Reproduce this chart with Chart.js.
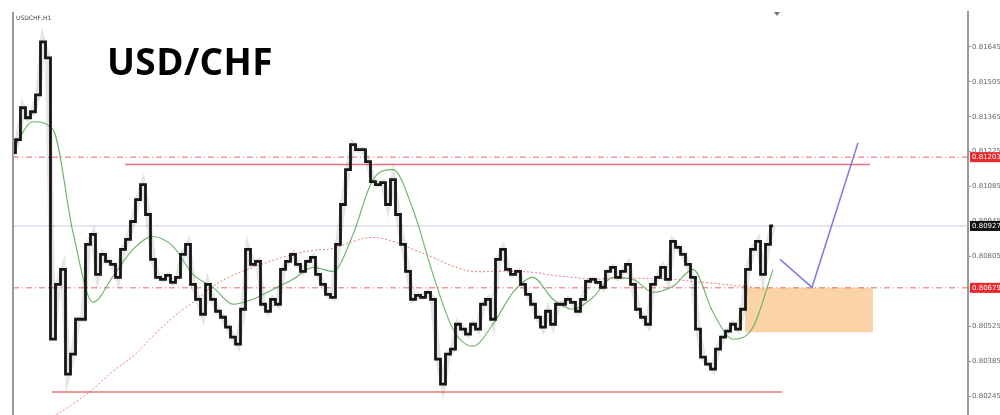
<!DOCTYPE html>
<html>
<head>
<meta charset="utf-8">
<script src="https://cdn.jsdelivr.net/npm/chart.js@4.4.1/dist/chart.umd.min.js"></script>
<style>
  html, body { margin: 0; padding: 0; background: #fff; }
  #wrap { position: relative; width: 1000px; height: 415px; }
  #priceChart { display: block; }
  #title { position: absolute; left: 107px; top: 42px; font: 700 37px "Open Sans", sans-serif; color: #000; line-height: 1; letter-spacing: 0.4px; }
  #sym { position: absolute; left: 16px; top: 14px; font: 6px "DejaVu Sans", sans-serif; color: #444; }
  #arrow { position: absolute; left: 774px; top: 12px; width: 0; height: 0; border-left: 3px solid transparent; border-right: 3px solid transparent; border-top: 4px solid #777; }
</style>
</head>
<body>
<div id="wrap">
  <canvas id="priceChart" width="1000" height="415"></canvas>
  <div id="title">USD/CHF</div>
  <div id="sym">USDCHF,H1</div>
  <div id="arrow"></div>
</div>
<script>
// closes, one per bar (H1)
const closes = [
  0.81221, 0.81273, 0.81401, 0.81361, 0.81385, 0.81453, 0.81665, 0.81601, 0.80473, 0.80693,
  0.80753, 0.80333, 0.80413, 0.80553, 0.80553, 0.80853, 0.80893, 0.80733, 0.80813, 0.80785,
  0.80773, 0.80721, 0.80833, 0.80873, 0.80945, 0.81033, 0.81093, 0.80973, 0.80793, 0.80721,
  0.80713, 0.80729, 0.80701, 0.80721, 0.80813, 0.80853, 0.80693, 0.80633, 0.80573, 0.80693,
  0.80633, 0.80585, 0.80561, 0.80521, 0.80481, 0.80453, 0.80593, 0.80833, 0.80773, 0.80785,
  0.80613, 0.80585, 0.80633, 0.80613, 0.80753, 0.80785, 0.80813, 0.80773, 0.80745, 0.80785,
  0.80801, 0.80733, 0.80693, 0.80653, 0.80641, 0.80853, 0.81013, 0.81153, 0.81253, 0.81233,
  0.81233, 0.81185, 0.81105, 0.81093, 0.81101, 0.81013, 0.81113, 0.80973, 0.80853, 0.80745,
  0.80633, 0.80649, 0.80641, 0.80661, 0.80633, 0.80393, 0.80293, 0.80413, 0.80433, 0.80533,
  0.80513, 0.80493, 0.80533, 0.80513, 0.80613, 0.80633, 0.80553, 0.80793, 0.80833, 0.80753,
  0.80733, 0.80745, 0.80693, 0.80653, 0.80613, 0.80561, 0.80521, 0.80585, 0.80533, 0.80613,
  0.80613, 0.80633, 0.80621, 0.80585, 0.80633, 0.80705, 0.80713, 0.80701, 0.80681, 0.80745,
  0.80761, 0.80721, 0.80745, 0.80773, 0.80693, 0.80593, 0.80561, 0.80533, 0.80693, 0.80721,
  0.80761, 0.80713, 0.80865, 0.80841, 0.80813, 0.80773, 0.80721, 0.80513, 0.80401, 0.80373,
  0.80353, 0.80433, 0.80481, 0.80505, 0.80533, 0.80513, 0.80593, 0.80753, 0.80833, 0.80865,
  0.80733, 0.80853, 0.80927
];

// fast MA (green), every 4th bar from bar 0
const maFast = [
  0.81233, 0.81345, 0.81313, 0.80901, 0.80621, 0.80725, 0.80833, 0.80885, 0.80845, 0.80733,
  0.80681, 0.80613, 0.80633, 0.80673, 0.80713, 0.80761, 0.80745, 0.80893, 0.81113, 0.81153,
  0.80993, 0.80733, 0.80513, 0.80445, 0.80533, 0.80661, 0.80721, 0.80633, 0.80593, 0.80641,
  0.80721, 0.80713, 0.80661, 0.80685, 0.80753, 0.80581, 0.80473, 0.80521, 0.80753
];

// slow MA (red dotted), every 4th bar from bar 8
const maSlowStart = 8;
const maSlow = [
  0.80161, 0.80213, 0.80273, 0.80345, 0.80405, 0.80485, 0.80561, 0.80621, 0.80685, 0.80729,
  0.80761, 0.80789, 0.80813, 0.80829, 0.80837, 0.80865, 0.80881, 0.80865, 0.80833, 0.80801,
  0.80765, 0.80745, 0.80745, 0.80745, 0.80741, 0.80729, 0.80721, 0.80713, 0.80717, 0.80717,
  0.80717, 0.80713, 0.80705, 0.80697, 0.80689, 0.80681
];

// horizontal levels: price, from bar, to bar
const levelPrices = [0.81203, 0.81173, 0.80927, 0.80679, 0.80261];
const levelFrom   = [0, 22.4, 0, 0, 7.8];
const levelTo     = [191, 171.4, 191, 191, 153.8];

// demand zone
const zoneBars = [146.4, 172];
const zoneTop = 0.80679;
const zoneBottom = 0.80501;

// projected path
const projBars = [153.4, 159.8, 169];
const projPrices = [0.80793, 0.80681, 0.81261];

// right axis
const tickLabels = [0.81645, 0.81505, 0.81365, 0.81225, 0.81085, 0.80945, 0.80805, 0.80665, 0.80525, 0.80385, 0.80245];
const priceTags = [0.81203, 0.80927, 0.80679];
const tagColors = ["#e8282c", "#111111", "#e8282c"];

const levelStyles = [
  { color: "rgba(230,80,80,0.85)", width: 1, dash: [6, 3, 1, 3] },
  { color: "rgba(238,100,110,0.9)", width: 1.5, dash: [] },
  { color: "rgba(195,195,220,0.9)", width: 1, dash: [] },
  { color: "rgba(230,80,80,0.85)", width: 1, dash: [6, 3, 1, 3] },
  { color: "rgba(238,100,110,0.9)", width: 1.5, dash: [] },
];

const datasets = [];

// zone as filled band
datasets.push({
  data: zoneBars.map(b => ({ x: b, y: zoneBottom })),
  borderWidth: 0, pointRadius: 0, fill: false, order: 10,
});
datasets.push({
  data: zoneBars.map(b => ({ x: b, y: zoneTop })),
  borderWidth: 0, pointRadius: 0, fill: "-1",
  backgroundColor: "rgba(248,196,140,0.75)", order: 10,
});

levelPrices.forEach((p, i) => {
  datasets.push({
    data: [{ x: levelFrom[i], y: p }, { x: levelTo[i], y: p }],
    borderColor: levelStyles[i].color,
    borderWidth: levelStyles[i].width,
    borderDash: levelStyles[i].dash,
    pointRadius: 0, fill: false, order: 9,
  });
});

// wick shading under closes
datasets.push({
  data: closes.map((v, i) => ({ x: i, y: v })),
  borderColor: "rgba(0,0,0,0.1)", borderWidth: 6,
  pointRadius: 0, fill: false, order: 5,
});
datasets.push({
  data: closes.map((v, i) => ({ x: i, y: v })),
  borderColor: "#161616", borderWidth: 2.8,
  stepped: "middle", pointRadius: 0, fill: false, order: 2,
});

datasets.push({
  data: maFast.map((v, i) => ({ x: i * 4, y: v })),
  borderColor: "rgba(90,170,90,0.9)", borderWidth: 1.1,
  cubicInterpolationMode: "monotone", pointRadius: 0, fill: false, order: 3,
});
datasets.push({
  data: maSlow.map((v, i) => ({ x: maSlowStart + i * 4, y: v })),
  borderColor: "rgba(235,90,90,0.8)", borderWidth: 1, borderDash: [2, 2],
  tension: 0.4, pointRadius: 0, fill: false, order: 4,
});

datasets.push({
  data: projBars.map((b, i) => ({ x: b, y: projPrices[i] })),
  borderColor: "rgba(110,110,225,0.9)", borderWidth: 1.5,
  pointRadius: 0, fill: false, order: 1,
});

const framePlugin = {
  id: "frame",
  afterDraw(chart) {
    const { ctx, chartArea } = chart;
    const y = chart.scales.y;
    ctx.save();
    ctx.strokeStyle = "#9a9a9a";
    ctx.lineWidth = 2;
    ctx.beginPath();
    ctx.moveTo(chartArea.left, chartArea.top);
    ctx.lineTo(chartArea.left, chartArea.bottom);
    ctx.stroke();
    ctx.font = "7px 'DejaVu Sans', sans-serif";
    ctx.textBaseline = "middle";
    priceTags.forEach((p, i) => {
      const py = y.getPixelForValue(p);
      ctx.fillStyle = tagColors[i];
      ctx.fillRect(chartArea.right + 2, py - 5, 30, 10);
      ctx.fillStyle = "#fff";
      ctx.fillText(p.toFixed(5), chartArea.right + 4, py);
    });
    ctx.restore();
  }
};

new Chart(document.getElementById("priceChart"), {
  type: "line",
  data: { datasets },
  options: {
    responsive: false,
    animation: false,
    layout: { padding: { left: 13, top: 12, right: 0, bottom: 0 } },
    plugins: { legend: { display: false }, tooltip: { enabled: false } },
    scales: {
      x: { type: "linear", min: 0, max: 191, display: false },
      y: {
        position: "right",
        min: 0.80169, max: 0.81785,
        afterBuildTicks: s => { s.ticks = tickLabels.map(v => ({ value: v })); },
        afterFit: s => { s.width = 32; s.paddingTop = 0; s.paddingBottom = 0; },
        grid: { drawOnChartArea: false, drawTicks: true, tickLength: 3, color: "#9a9a9a" },
        border: { display: true, color: "#9a9a9a", width: 2 },
        ticks: {
          padding: 1,
          color: "#666",
          font: { family: "DejaVu Sans", size: 7 },
          callback: v => v.toFixed(5),
        },
      },
    },
  },
  plugins: [framePlugin],
});
</script>
</body>
</html>
